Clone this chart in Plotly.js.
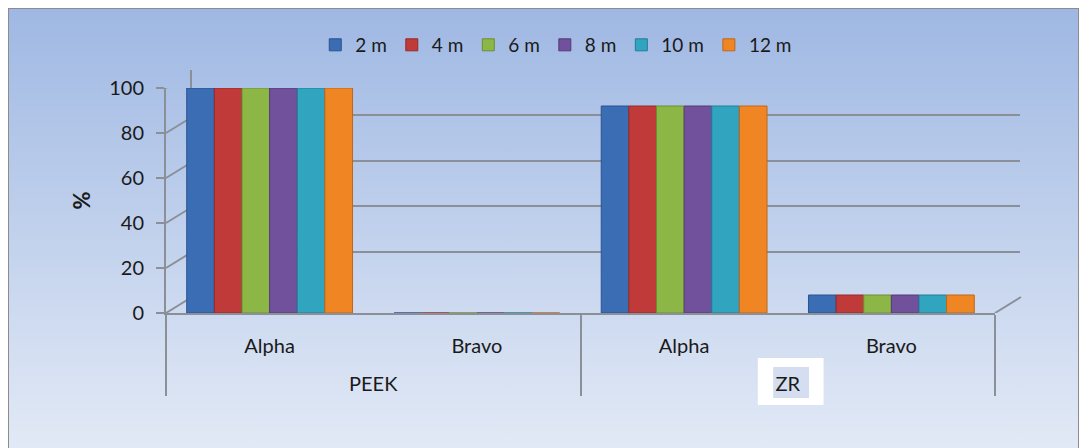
<!DOCTYPE html>
<html>
<head>
<meta charset="utf-8">
<script src="https://cdn.plot.ly/plotly-3.0.1.min.js"></script>
<style>
  html, body { margin:0; padding:0; background:#ffffff; }
  #frame { position:absolute; left:8px; top:8px; width:1069px; height:445px;
           border:1px solid #8c8c8c; background:linear-gradient(#9fb8e3, #e3eaf6); }
  #chart { position:absolute; left:0; top:0; width:1087px; height:448px; }
</style>
</head>
<body>
<div id="frame"></div>
<div id="chart"></div>
<script>
// ---- data ----
const categories = ['Alpha', 'Bravo', 'Alpha', 'Bravo'];
const groups = ['PEEK', 'PEEK', 'ZR', 'ZR'];
const seriesNames = ['2 m', '4 m', '6 m', '8 m', '10 m', '12 m'];
const values2m  = [100, 0, 92, 8];
const values4m  = [100, 0, 92, 8];
const values6m  = [100, 0, 92, 8];
const values8m  = [100, 0, 92, 8];
const values10m = [100, 0, 92, 8];
const values12m = [100, 0, 92, 8];
const yTicks = [0, 20, 40, 60, 80, 100];
const yTitle = '%';

const seriesValues = [values2m, values4m, values6m, values8m, values10m, values12m];
const colors = ['#3b6db4', '#c03a3a', '#8cb646', '#71519b', '#31a4c0', '#ef8623'];
const lineColors = ['#2a5290', '#962a2a', '#6c8f30', '#553b78', '#217e96', '#c0661a'];

const W = 854, H = 243;           // plot-area size in px
const dx = 26, dy = 16;           // 3D depth offset
const depthVal = dy / 2.25;

const traces = [];
traces.push({ type: 'scatter', x: [], y: [], xaxis: 'x', yaxis: 'y', showlegend: false, hoverinfo: 'skip' });
seriesNames.forEach((name, i) => {
  traces.push({
    type: 'bar', name: name,
    x: [groups.map(g => '<br>' + g), categories], y: seriesValues[i],
    xaxis: 'x2', yaxis: 'y2',
    marker: { color: colors[i], line: { color: lineColors[i], width: 1 } }
  });
});

const gridColor = '#8a8f98';
const shapes = [];
yTicks.forEach(v => {
  shapes.push({ type: 'line', layer: 'below', xref: 'paper', yref: 'y2',
    x0: 0, x1: dx / W, y0: v, y1: v + depthVal, line: { color: gridColor, width: 2 } });
});
shapes.push({ type: 'line', layer: 'below', xref: 'paper', yref: 'y2',
  x0: 829 / W, x1: (829 + dx) / W, y0: 0, y1: depthVal, line: { color: gridColor, width: 2 } });
shapes.push({ type: 'rect', layer: 'below', xref: 'paper', yref: 'paper',
  x0: 0.693, x1: 0.770, y0: -0.379, y1: -0.185, fillcolor: '#ffffff', line: { width: 0 } });
shapes.push({ type: 'rect', layer: 'below', xref: 'paper', yref: 'paper',
  x0: 0.711, x1: 0.753, y0: -0.350, y1: -0.222, fillcolor: '#d4def0', line: { width: 0 } });

const layout = {
  width: 1087, height: 448,
  margin: { l: 166, r: 67, t: 70, b: 135, pad: 0 },
  paper_bgcolor: 'rgba(0,0,0,0)', plot_bgcolor: 'rgba(0,0,0,0)',
  font: { family: 'Lato, "Open Sans", sans-serif', size: 20, color: '#1a1a1a' },
  barmode: 'group', bargap: 0.2, bargroupgap: 0,
  showlegend: true,
  legend: { orientation: 'h', x: 0.457, xanchor: 'center', y: 1.103, yanchor: 'middle',
            font: { size: 19 }, bgcolor: 'rgba(0,0,0,0)', itemwidth: 30, traceorder: 'normal' },
  xaxis: { domain: [dx / W, 1], range: [0, 1], anchor: 'y', showgrid: false, zeroline: false,
           showticklabels: false, showline: false, ticks: '' },
  yaxis: { domain: [dy / H, 1], range: [0, 100], anchor: 'x', tickvals: yTicks, showgrid: true,
           gridcolor: gridColor, gridwidth: 2, zeroline: false, showticklabels: false,
           showline: true, linecolor: gridColor, linewidth: 2, ticks: '' },
  xaxis2: { type: 'multicategory', domain: [0, 829 / W], anchor: 'y2', showline: true,
            linecolor: gridColor, linewidth: 2, showgrid: false, ticks: '',
            ticklabelstandoff: 14,
            showdividers: true, dividercolor: gridColor, dividerwidth: 2,
            tickfont: { size: 20, color: '#1a1a1a' } },
  yaxis2: { domain: [0, 225 / H], range: [0, 100], anchor: 'x2', tickvals: yTicks,
            showgrid: false, zeroline: false, showline: true, linecolor: gridColor, linewidth: 2,
            ticks: 'outside', ticklen: 8, tickcolor: gridColor, tickwidth: 2,
            ticklabelstandoff: 8,
            tickfont: { size: 20, color: '#1a1a1a' },
            title: { text: yTitle, font: { size: 22, color: '#1a1a1a', weight: 'bold' }, standoff: 12 } },
  shapes: shapes
};

Plotly.newPlot('chart', traces, layout, { staticPlot: true, displayModeBar: false });
</script>
</body>
</html>
